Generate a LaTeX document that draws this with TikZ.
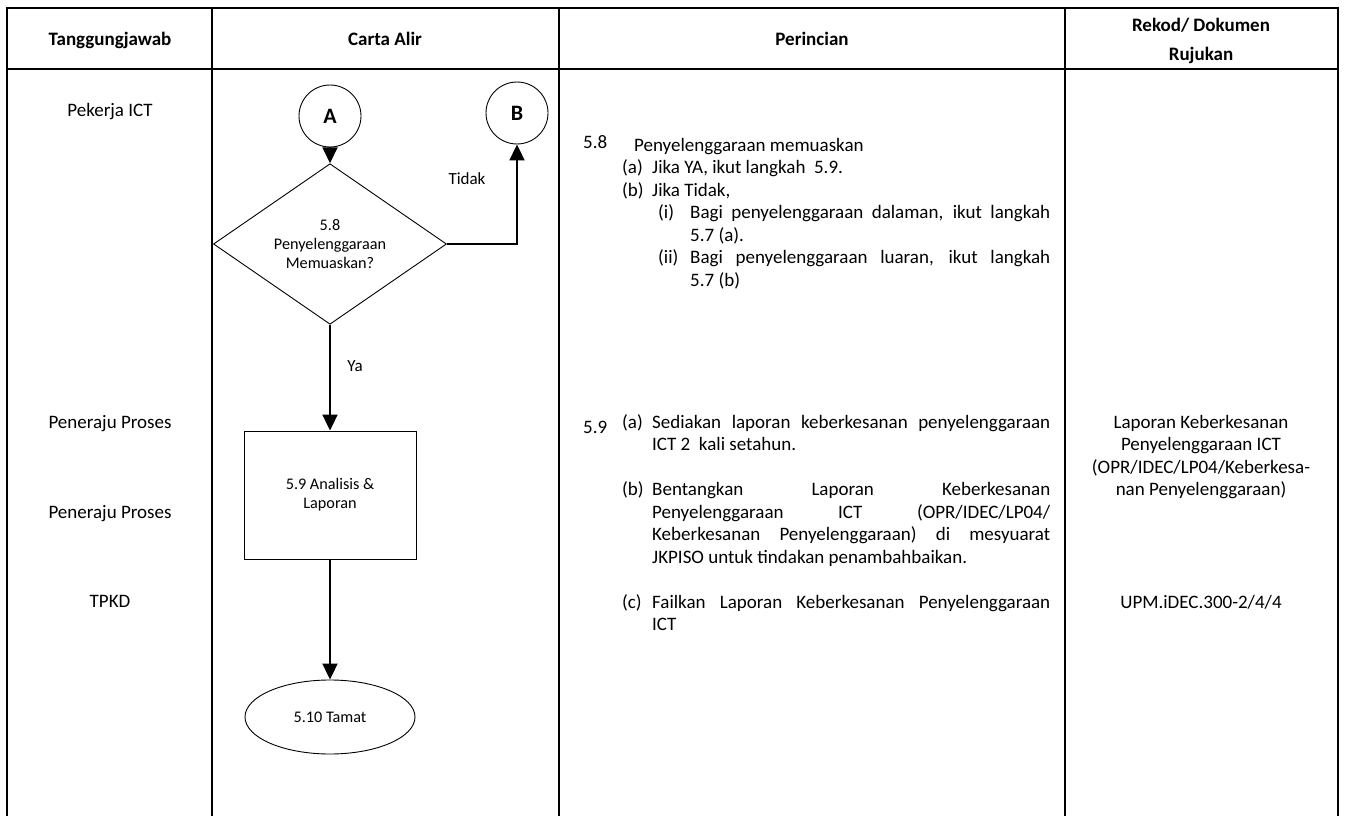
\documentclass[tikz,border=0pt]{standalone}
\usepackage{fontspec}
\setmainfont{Carlito}
\usetikzlibrary{shapes.geometric,arrows.meta}
\newcommand{\fsm}{\fontsize{19}{22.5}\selectfont}
\newcommand{\fss}{\fontsize{16.2}{18.7}\selectfont}
\begin{document}
\begin{tikzpicture}[x=1pt,y=-1pt,
  grid/.style={line width=2.2pt},
  txt/.style={anchor=base west,inner sep=0pt,font=\fsm},
  ctxt/.style={anchor=base,inner sep=0pt,font=\fsm},
  hdr/.style={anchor=base,inner sep=0pt,font=\fontsize{19}{21}\selectfont\bfseries},
  conn/.style={line width=2pt,-{Triangle[width=15pt,length=16pt]}},
  shp/.style={draw,line width=0.9pt,inner sep=0pt,font=\fss,align=center},
  conncirc/.style={draw,circle,line width=0.9pt,minimum size=62pt,inner sep=0pt,font=\fontsize{22}{24}\selectfont\bfseries},
  lbl/.style={anchor=base,inner sep=0pt,font=\fontsize{17}{19}\selectfont},
]
\useasboundingbox (0,0) rectangle (1345,816);
% table grid
\draw[grid] (7,817) -- (7,8) -- (1338,8) -- (1338,817);
\draw[grid] (7,69) -- (1338,69);
\draw[grid] (212,8) -- (212,817);
\draw[grid] (559,8) -- (559,817);
\draw[grid] (1065,8) -- (1065,817);
% headers
\node[hdr] (h1) at (110,46) {Tanggungjawab};
\node[hdr] (h2) at (385,46) {Carta Alir};
\node[hdr] (h3) at (812,46) {Perincian};
\node[hdr] (h4a) at (1201,32) {Rekod/ Dokumen};
\node[hdr] (h4b) at (1201,61) {Rujukan};
% Tanggungjawab column
\node[ctxt] (t1) at (110,117) {Pekerja ICT};
\node[ctxt] (t2) at (110,428) {Peneraju Proses};
\node[ctxt] (t3) at (110,518) {Peneraju Proses};
\node[ctxt] (t4) at (110,607) {TPKD};
% flowchart
\node[conncirc] (A) at (330,116) {A};
\node[conncirc] (B) at (517,113) {B};
\node[shp,shape=diamond,minimum width=233pt,minimum height=152pt] (dec) at (330,244) {5.8\\Penyelenggaraan\\Memuaskan?};
\node[shp,rectangle,minimum width=172pt,minimum height=128pt] (an) at (330,495) {5.9 Analisis \&\\Laporan};
\node[shp,ellipse,minimum width=170pt,minimum height=74pt] (end) at (330,717) {5.10 Tamat};
\draw[conn] (A.south) -- (dec.north);
\draw[conn] (dec.east) -| (B.south);
\draw[conn] (dec.south) -- (an.north);
\draw[conn] (an.south) -- (end.north);
\node[lbl] (tidak) at (467,184) {Tidak};
\node[lbl] (ya) at (355,371) {Ya};
% Perincian 5.8
\node[txt] (p58) at (583,148) {5.8};
\node[txt] (p58t) at (634,151) {Penyelenggaraan memuaskan};
\node[txt] (p58a) at (622,173.5) {(a)};
\node[txt] (p58at) at (652,173.5) {Jika YA, ikut langkah\ \ 5.9.};
\node[txt] (p58b) at (622,196) {(b)};
\node[txt] (p58bt) at (652,196) {Jika Tidak,};
\node[txt] (p58i) at (658,218.5) {(i)};
\node[txt] (p58it) at (690,218.5) {\makebox[360pt][s]{Bagi penyelenggaraan dalaman, ikut langkah}};
\node[txt] (p58it2) at (690,241) {5.7 (a).};
\node[txt] (p58ii) at (658,263.5) {(ii)};
\node[txt] (p58iit) at (690,263.5) {\makebox[360pt][s]{Bagi penyelenggaraan luaran, ikut langkah}};
\node[txt] (p58iit2) at (690,286) {5.7 (b)};
% Perincian 5.9
\node[txt] (p59) at (583,433) {5.9};
\node[txt] (p59a) at (622,428) {(a)};
\node[txt] (p59at) at (652,428) {\makebox[398pt][s]{Sediakan laporan keberkesanan penyelenggaraan}};
\node[txt] (p59at2) at (652,450.5) {ICT 2\ \ kali setahun.};
\node[txt] (p59b) at (622,495.5) {(b)};
\node[txt] (p59bt1) at (652,495.5) {\makebox[398pt][s]{Bentangkan Laporan Keberkesanan}};
\node[txt] (p59bt2) at (652,518) {\makebox[398pt][s]{Penyelenggaraan ICT (OPR/IDEC/LP04/}};
\node[txt] (p59bt3) at (652,540.5) {\makebox[398pt][s]{Keberkesanan Penyelenggaraan) di mesyuarat}};
\node[txt] (p59bt4) at (652,563) {JKPISO untuk tindakan penambahbaikan.};
\node[txt] (p59c) at (622,608) {(c)};
\node[txt] (p59ct1) at (652,608) {\makebox[398pt][s]{Failkan Laporan Keberkesanan Penyelenggaraan}};
\node[txt] (p59ct2) at (652,630.5) {ICT};
% Rekod column
\node[ctxt] (r1) at (1201,428) {Laporan Keberkesanan};
\node[ctxt] (r2) at (1201,450.5) {Penyelenggaraan ICT};
\node[ctxt] (r3) at (1201,473) {(OPR/IDEC/LP04/Keberkesa-};
\node[ctxt] (r4) at (1201,495.5) {nan Penyelenggaraan)};
\node[ctxt] (r5) at (1201,608) {UPM.iDEC.300-2/4/4};
\end{tikzpicture}
\end{document}
